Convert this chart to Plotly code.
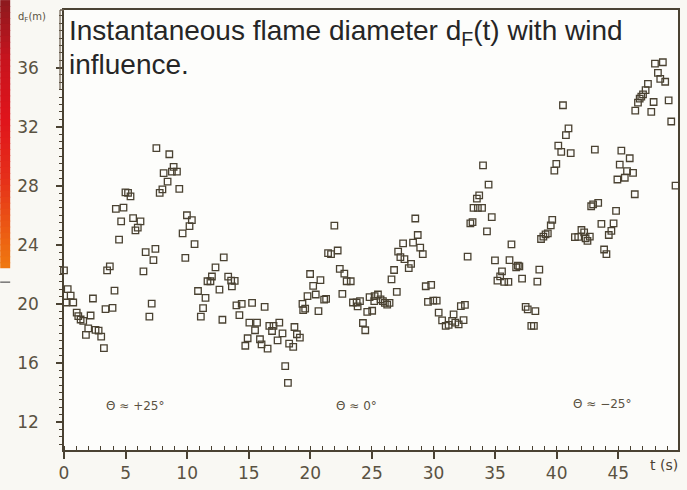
import plotly.graph_objects as go

# ---- data ----
t_pos25 = [0.0, 0.30, 0.54, 0.16, 0.75, 1.03, 1.16, 1.35, 1.56, 2.16, 2.35, 1.97, 1.78, 2.56, 2.81,
           3.02, 3.24, 3.37, 3.94, 4.10, 3.50, 3.72, 4.47, 4.64, 4.21, 4.83, 4.99, 5.20, 5.40, 5.61,
           5.80, 5.99, 6.21, 6.45, 6.63, 7.26, 7.42, 6.93, 7.12, 7.50, 8.55, 8.09, 7.77, 7.99, 8.41,
           8.90, 8.76, 9.17, 9.36, 9.98, 10.38, 10.19, 9.63, 10.60, 9.85, 12.97, 12.30, 12.01, 11.65,
           11.89, 13.33, 13.57, 13.86, 13.63, 12.62, 10.88, 11.49, 11.29, 11.11, 12.86, 14.00, 14.43,
           15.27, 14.24, 16.29, 15.05, 15.67, 15.51, 14.91, 14.72, 15.91, 16.04, 16.53, 16.67, 17.01,
           17.48, 16.89, 17.74, 17.34, 18.28, 18.61, 18.71, 18.91, 19.15, 17.96, 18.18]
d_pos25 = [22.27, 21.00, 20.56, 20.09, 20.09, 19.40, 19.17, 18.94, 18.84, 19.21, 20.36, 18.34, 17.90,
           18.23, 18.18, 17.78, 17.00, 19.64, 19.73, 20.89, 22.27, 22.53, 24.35, 25.58, 26.43, 26.52,
           27.55, 27.51, 27.28, 25.80, 24.97, 25.16, 25.58, 22.20, 23.50, 22.96, 23.72, 19.13, 20.02,
           30.55, 30.13, 28.85, 27.51, 27.75, 28.27, 29.28, 28.96, 28.96, 27.78, 26.00, 25.67, 25.26,
           24.77, 24.05, 23.11, 23.14, 22.47, 21.85, 21.53, 21.53, 21.84, 21.57, 21.55, 21.18, 20.96,
           20.87, 20.40, 19.71, 19.13, 18.92, 19.89, 20.00, 20.07, 19.24, 19.80, 18.72, 18.72, 18.21,
           17.67, 17.16, 17.60, 17.26, 16.97, 18.50, 18.50, 18.72, 18.16, 18.00, 17.53, 17.31, 17.09,
           18.43, 17.94, 17.71, 15.78, 14.64]

t_zero = [19.36, 19.58, 19.42, 19.77, 19.98, 20.23, 20.82, 20.44, 21.12, 21.28, 20.66, 21.44, 21.68,
          22.22, 21.95, 22.39, 22.76, 22.95, 23.28, 22.60, 23.46, 23.76, 24.03, 23.84, 24.81, 25.22,
          25.49, 25.70, 25.19, 25.89, 26.05, 26.24, 26.43, 24.62, 25.02, 24.27, 24.46, 27.02, 26.59,
          26.80, 27.13, 27.31, 27.53, 27.64, 28.18, 27.99, 28.34, 28.52, 28.72, 28.92, 29.13, 29.37,
          29.81, 29.55, 29.98, 30.26, 30.42, 30.70, 30.99, 31.23, 31.51, 31.77, 32.04, 31.63, 32.22,
          32.55, 32.44, 32.77]
d_zero = [20.00, 19.68, 19.58, 20.52, 22.02, 21.21, 21.61, 20.63, 20.29, 20.33, 19.51, 23.43, 23.36,
          23.61, 25.29, 22.37, 22.04, 21.53, 21.53, 20.67, 20.09, 20.09, 20.18, 19.83, 20.45, 20.52,
          20.63, 20.30, 20.18, 20.18, 20.07, 19.95, 20.07, 19.46, 19.53, 18.70, 18.21, 20.81, 21.65,
          22.29, 23.54, 23.16, 24.10, 23.03, 22.71, 22.42, 24.15, 25.78, 24.66, 23.80, 23.36, 21.19,
          21.28, 20.13, 20.22, 20.22, 19.40, 18.88, 18.50, 18.57, 18.84, 18.72, 18.61, 19.28, 19.85,
          19.93, 18.89, 23.19]

t_neg25 = [32.99, 33.17, 33.25, 33.60, 33.94, 33.52, 33.71, 34.02, 34.47, 34.73, 34.34, 34.99, 36.17,
           36.33, 36.71, 36.85, 36.97, 35.56, 35.41, 35.19, 35.74, 36.08, 37.19, 38.59, 38.43, 37.48,
           37.65, 38.27, 37.94, 38.15, 38.73, 38.92, 39.10, 39.28, 39.52, 39.64, 39.81, 39.97, 40.13,
           40.37, 41.14, 40.75, 40.96, 40.51, 41.48, 41.75, 42.01, 42.23, 42.35, 42.69, 42.50, 43.10,
           42.80, 42.96, 43.37, 43.63, 44.62, 44.44, 44.23, 43.85, 44.04, 44.82, 45.25, 45.93, 45.12,
           45.71, 46.20, 45.53, 44.93, 46.34, 46.38, 46.60, 46.74, 46.87, 47.01, 47.22, 47.41, 47.68,
           47.87, 47.98, 48.62, 48.22, 48.41, 48.81, 49.09, 49.30, 49.65]
d_neg25 = [25.45, 25.53, 26.50, 26.50, 26.50, 27.13, 27.35, 29.38, 28.07, 25.87, 24.91, 22.94, 22.96,
           24.03, 22.47, 22.59, 22.53, 22.20, 21.86, 21.57, 21.48, 21.48, 21.70, 22.31, 21.50, 19.80,
           19.62, 19.51, 18.50, 18.50, 24.39, 24.55, 24.71, 24.77, 25.31, 25.68, 29.02, 29.48, 30.71,
           30.29, 30.20, 31.43, 31.88, 33.45, 24.52, 24.54, 25.00, 24.84, 24.44, 24.55, 24.26, 30.44,
           26.61, 26.74, 26.84, 25.41, 25.45, 24.94, 24.66, 23.68, 23.36, 26.30, 30.37, 29.86, 29.43,
           28.99, 28.87, 28.54, 28.42, 27.42, 33.09, 33.63, 33.90, 34.03, 34.18, 34.47, 34.90, 33.00,
           33.67, 36.27, 36.36, 35.64, 35.24, 35.04, 33.78, 32.35, 28.00]

x_ticks = [0, 5, 10, 15, 20, 25, 30, 35, 40, 45]
y_ticks = [12, 16, 20, 24, 28, 32, 36]
wind_labels = ["Θ ≈ +25°", "Θ ≈ 0°", "Θ ≈ −25°"]

# ---- figure ----
W, H = 687, 490
ML, MR, MT, MB = 64, 7, 10, 37
PW, PH = W - ML - MR, H - MT - MB


def px_x(px):
    return (px - ML) / PW


def px_y(py):
    return (H - MB - py) / PH


ink = "#4a4232"
fig = go.Figure()
for tt, dd in [(t_pos25, d_pos25), (t_zero, d_zero), (t_neg25, d_neg25)]:
    fig.add_trace(go.Scatter(
        x=tt, y=dd, mode="markers", cliponaxis=False, showlegend=False,
        marker=dict(symbol="square-open", size=6.5, color=ink, line=dict(width=1.3, color=ink)),
    ))

axis_font = dict(family="DejaVu Sans", size=17, color="#5a5242")
fig.update_xaxes(
    range=[0, 49.85], tickvals=x_ticks, ticks="outside", ticklen=7, tickwidth=1.5,
    tickcolor=ink, showline=True, linecolor=ink, linewidth=1.5, mirror=True,
    showgrid=False, zeroline=False, tickfont=axis_font,
    minor=dict(dtick=1, ticks="inside", ticklen=4, tickcolor=ink, tickwidth=1),
)
fig.update_yaxes(
    range=[10.1, 39.9], tickvals=y_ticks, ticks="outside", ticklen=6, tickwidth=1.5,
    tickcolor=ink, showline=True, linecolor=ink, linewidth=1.5, mirror=True,
    showgrid=False, zeroline=False, tickfont=axis_font, ticklabelstandoff=14,
    minor=dict(dtick=0.5, ticks="outside", ticklen=3, tickcolor=ink, tickwidth=1),
)

shapes = []
# decorative red-orange gradient band on the far left
stops = [(0, (140, 26, 30)), (60, (200, 20, 30)), (120, (224, 20, 28)),
         (180, (230, 48, 26)), (230, (236, 90, 20)), (270, (240, 122, 16))]
step = 6
for y0 in range(0, 270, step):
    yc = y0 + step / 2
    for (a, ca), (b, cb) in zip(stops[:-1], stops[1:]):
        if a <= yc <= b:
            f = (yc - a) / (b - a)
            c = tuple(int(ca[i] + (cb[i] - ca[i]) * f) for i in range(3))
            break
    shapes.append(dict(type="rect", xref="paper", yref="paper",
                       x0=px_x(0), x1=px_x(10), y0=px_y(min(y0 + step + 1, 270)), y1=px_y(y0),
                       fillcolor="rgb(%d,%d,%d)" % c, line=dict(width=0), layer="above"))
shapes.append(dict(type="line", xref="paper", yref="paper", x0=px_x(0), x1=px_x(10),
                   y0=px_y(284), y1=px_y(284), line=dict(color="#555", width=1.2)))
# title box left edge
shapes.append(dict(type="line", xref="paper", yref="paper", x0=px_x(60), x1=px_x(60),
                   y0=px_y(10), y1=px_y(90), line=dict(color="#6b6050", width=1.2)))
shapes.append(dict(type="line", xref="paper", yref="paper", x0=px_x(60), x1=px_x(64),
                   y0=px_y(10), y1=px_y(10), line=dict(color="#6b6050", width=1.5)))

title_font = dict(family="Liberation Sans", size=28, color="#262626")
small_font = dict(family="DejaVu Sans", size=12, color="#5a5242")
ann = [
    dict(text="Instantaneous flame diameter d<sub>F</sub>(t) with wind", x=px_x(67), y=px_y(33),
         xanchor="left", yanchor="middle", font=title_font),
    dict(text="influence.", x=px_x(67), y=px_y(65),
         xanchor="left", yanchor="middle", font=title_font),
    dict(text="d<sub>F</sub>(m)", x=px_x(16), y=px_y(18), xanchor="left", yanchor="middle",
         font=dict(family="DejaVu Sans", size=10, color="#5a5242")),
    dict(text="t (s)", x=px_x(666), y=px_y(468), xanchor="center", yanchor="middle",
         font=dict(family="DejaVu Sans", size=14, color="#4a4232")),
    dict(text=wind_labels[0], x=px_x(135), y=px_y(409), xanchor="center", yanchor="middle",
         font=small_font),
    dict(text=wind_labels[1], x=px_x(357), y=px_y(409), xanchor="center", yanchor="middle",
         font=small_font),
    dict(text=wind_labels[2], x=px_x(604), y=px_y(407), xanchor="center", yanchor="middle",
         font=small_font),
]
for a in ann:
    a.update(xref="paper", yref="paper", showarrow=False)

fig.update_layout(
    width=W, height=H, margin=dict(l=ML, r=MR, t=MT, b=MB, pad=0),
    paper_bgcolor="#f9f8f3", plot_bgcolor="#fdfdfb",
    shapes=shapes, annotations=ann,
)
fig.write_html("out.html")
